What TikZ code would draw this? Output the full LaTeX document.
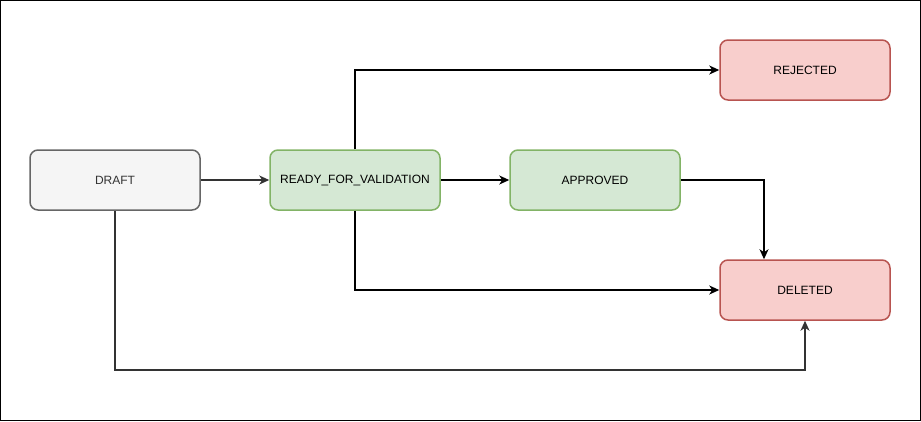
\documentclass[tikz,border=0pt]{standalone}
\usepackage{fontspec}
\setmainfont{Liberation Sans}
\usetikzlibrary{arrows.meta}
\definecolor{draftfill}{HTML}{F5F5F5}
\definecolor{draftline}{HTML}{666666}
\definecolor{greenfill}{HTML}{D5E8D4}
\definecolor{greenline}{HTML}{82B366}
\definecolor{redfill}{HTML}{F8CECC}
\definecolor{redline}{HTML}{B85450}
\definecolor{darkedge}{HTML}{333333}
\tikzset{
  state/.style={draw, line width=1.5pt, rounded corners=8pt, minimum width=170pt, minimum height=60pt, inner sep=0pt, font=\fontsize{12}{14}\selectfont},
  draftstate/.style={state, fill=draftfill, draw=draftline, text=darkedge},
  okstate/.style={state, fill=greenfill, draw=greenline},
  badstate/.style={state, fill=redfill, draw=redline},
  conn/.style={line width=1.5pt, -{Stealth[length=10pt,width=9pt,inset=3pt]}},
  grayconn/.style={conn, draw=darkedge}
}
\begin{document}
\begin{tikzpicture}[x=1pt,y=-1pt]
\draw[line width=1pt] (0.5,0.5) rectangle (920.5,420.5);
\useasboundingbox (0,0) rectangle (921,421);
\node[draftstate] (draft) at (115,180) {DRAFT};
\node[okstate] (ready) at (355,180) {READY\_FOR\_VALIDATION};
\node[okstate] (approved) at (595,180) {APPROVED};
\node[badstate] (rejected) at (805,70) {REJECTED};
\node[badstate] (deleted) at (805,290) {DELETED};
\coordinate (c1) at (355,70);
\coordinate (c2) at (355,290);
\coordinate (c3) at (764,180);
\coordinate (c4) at (115,370);
\coordinate (c5) at (805,370);
\draw[grayconn] (draft.east) -- (ready.west);
\draw[conn] (ready.east) -- (approved.west);
\draw[conn] (ready.north) -- (c1) -- (rejected.west);
\draw[conn] (ready.south) -- (c2) -- (deleted.west);
\draw[conn] (approved.east) -- (c3) -- (deleted.north -| c3);
\draw[grayconn] (draft.south) -- (c4) -- (c5) -- (deleted.south);
\end{tikzpicture}
\end{document}
